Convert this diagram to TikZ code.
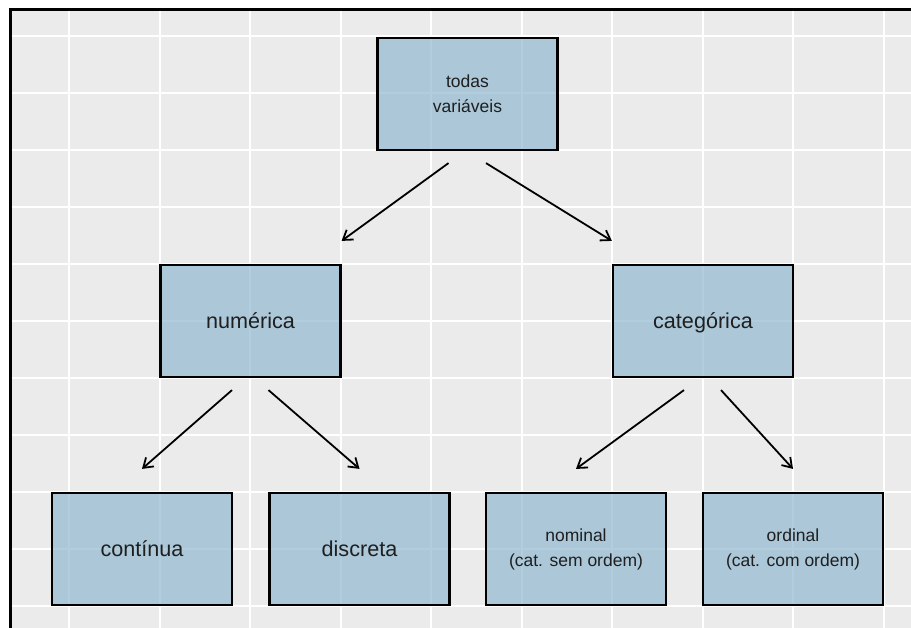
\documentclass[tikz,border=0pt]{standalone}
\usepackage{fontspec}
\setmainfont{Liberation Sans}
\usetikzlibrary{arrows.meta}
\definecolor{fundo}{RGB}{235,235,235}
\definecolor{azulcaixa}{RGB}{144,184,209}
\begin{document}
\begin{tikzpicture}[x=1pt,y=-1pt,
  grade/.style={white,line width=2pt},
  base/.style={draw=black,line width=2.2pt,fill=azulcaixa,fill opacity=0.7,text opacity=1,
    text=black!88,minimum width=180pt,minimum height=112pt,inner sep=0pt,align=center},
  caixa/.style={base,text height=15.5pt,text depth=0pt,font=\fontsize{21.6}{25}\selectfont},
  caixap/.style={base,font=\fontsize{17.5}{25}\selectfont},
  seta/.style={line width=1.8pt,-{Straight Barb[length=9pt,width=12pt]}}]
\useasboundingbox (0,0) rectangle (911,628);
\fill [fundo](12,11) rectangle (911,628);
\foreach \i in {0,...,9}
  \draw [grade]({69+90.56*\i},11) -- ({69+90.56*\i},628);
\foreach \j in {0,...,10}
  \draw [grade](12,{36+57*\j}) -- (911,{36+57*\j});
\draw [line width=3pt](10.5,628) -- (10.5,9.5) -- (911,9.5);
\node [caixap] (todas) at (467.5,94) {todas\\variáveis};
\node [caixa] (numerica) at (250.5,321) {numérica};
\node [caixa] (categorica) at (703,321) {categórica};
\node [caixa] (continua) at (142,549) {contínua};
\node [caixa] (discreta) at (359.5,549) {discreta};
\node [caixap] (nominal) at (576,549) {nominal\\(cat. sem ordem)};
\node [caixap] (ordinal) at (793,549) {ordinal\\(cat. com ordem)};
\draw [seta]([xshift=-19pt,yshift=-12pt]todas.south) -- ([yshift=23pt]numerica.north east);
\draw [seta]([xshift=18.5pt,yshift=-12pt]todas.south) -- ([yshift=23pt]categorica.north west);
\draw [seta]([xshift=-18.5pt,yshift=-12pt]numerica.south) -- ([yshift=23pt]continua.north);
\draw [seta]([xshift=18pt,yshift=-12pt]numerica.south) -- ([yshift=23pt]discreta.north);
\draw [seta]([xshift=-19pt,yshift=-12pt]categorica.south) -- ([yshift=23pt]nominal.north);
\draw [seta]([xshift=18pt,yshift=-12pt]categorica.south) -- ([yshift=23pt]ordinal.north);
\end{tikzpicture}
\end{document}
